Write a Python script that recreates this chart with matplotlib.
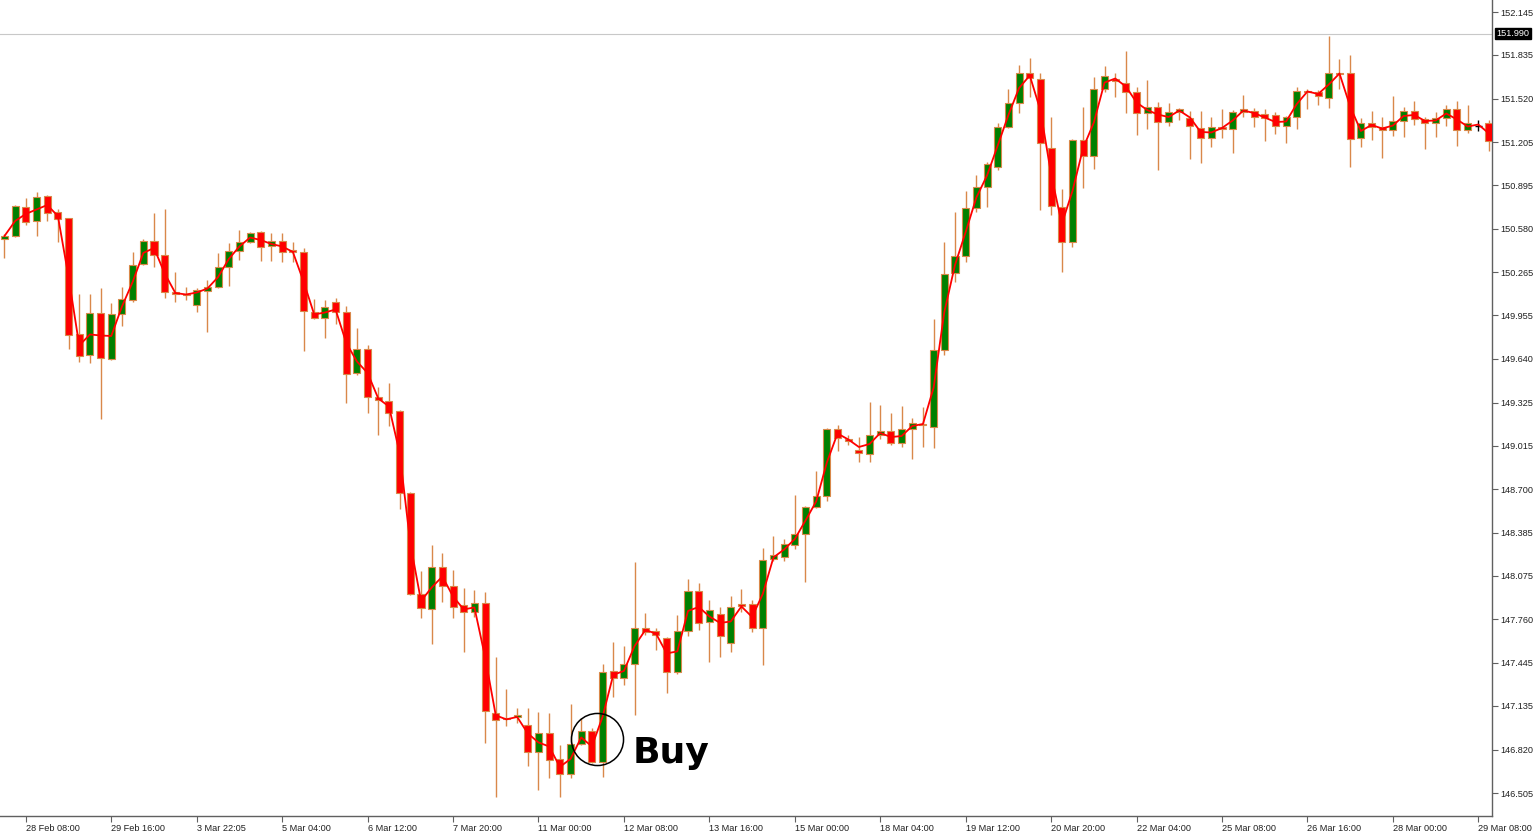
import numpy as np
import pandas as pd
import matplotlib
matplotlib.use("Agg")
import matplotlib.pyplot as plt

# ---- data (4H candles, USDJPY-like) ----
opens = [150.506,150.528,150.737,150.637,150.817,150.702,150.658,149.820,149.669,149.972,
         149.640,149.965,150.066,150.326,150.492,150.391,150.124,150.109,150.030,150.131,
         150.159,150.304,150.420,150.485,150.556,150.456,150.492,150.427,150.413,149.980,
         149.936,150.052,149.980,149.539,149.712,149.365,149.337,149.265,148.672,147.943,
         147.835,148.138,148.001,147.864,147.814,147.878,147.084,147.048,147.055,146.998,
         146.803,146.939,146.752,146.644,146.860,146.954,146.731,147.388,147.337,147.438,
         147.697,147.676,147.625,147.381,147.676,147.965,147.741,147.799,147.589,147.871,
         147.871,147.697,148.196,148.211,148.297,148.376,148.571,148.651,149.134,149.062,
         148.983,148.954,149.091,149.120,149.033,149.134,149.171,149.149,149.705,150.261,
         150.384,150.730,150.882,151.026,151.315,151.488,151.705,151.662,151.163,150.737,
         150.485,151.221,151.106,151.589,151.662,151.633,151.568,151.416,151.459,151.351,
         151.423,151.380,151.308,151.236,151.315,151.301,151.423,151.431,151.409,151.402,
         151.322,151.387,151.575,151.568,151.524,151.705,151.705,151.236,151.344,151.315,
         151.293,151.358,151.431,151.373,151.344,151.380,151.445,151.293,151.322,151.344]
highs = [150.542,150.752,150.802,150.846,150.824,150.723,150.660,150.109,150.109,150.152,
         150.044,150.159,150.413,150.506,150.694,150.723,150.269,150.159,150.152,150.210,
         150.405,150.477,150.571,150.556,150.564,150.549,150.549,150.485,150.441,150.073,
         150.066,150.080,150.023,149.864,149.741,149.437,149.466,149.270,148.680,148.110,
         148.297,148.239,148.117,147.986,147.972,147.958,147.488,147.257,147.120,147.120,
         147.092,147.084,146.853,147.149,147.048,146.976,147.438,147.597,147.568,148.175,
         147.806,147.697,147.630,147.792,148.052,148.023,147.900,147.849,147.929,147.979,
         147.900,148.275,148.362,148.340,148.658,148.575,148.831,149.141,149.163,149.091,
         149.077,149.329,149.308,149.250,149.301,149.214,149.293,149.929,150.485,150.701,
         150.853,150.968,151.062,151.344,151.589,151.763,151.813,151.705,151.387,150.867,
         151.228,151.459,151.676,151.755,151.705,151.864,151.604,151.654,151.496,151.488,
         151.452,151.431,151.431,151.387,151.445,151.438,151.546,151.452,151.445,151.423,
         151.392,151.604,151.589,151.582,151.972,151.806,151.835,151.380,151.431,151.387,
         151.539,151.459,151.503,151.387,151.423,151.474,151.503,151.474,151.366,151.366]
lows = [150.369,150.520,150.608,150.528,150.637,150.485,149.712,149.619,149.611,149.207,
        149.633,149.879,150.052,150.320,150.304,150.080,150.052,150.066,149.980,149.835,
        150.152,150.167,150.355,150.477,150.348,150.348,150.341,150.341,149.698,149.929,
        149.791,149.893,149.322,149.525,149.250,149.091,149.157,148.557,147.936,147.770,
        147.582,147.886,147.770,147.525,147.777,146.867,146.477,146.991,147.012,146.702,
        146.528,146.615,146.477,146.615,146.853,146.724,146.622,147.199,147.286,147.070,
        147.647,147.539,147.228,147.366,147.640,147.683,147.452,147.488,147.525,147.814,
        147.668,147.431,148.181,148.181,148.268,148.030,148.565,148.615,148.976,149.019,
        148.896,148.896,149.062,149.019,149.004,148.918,149.004,148.997,149.669,150.196,
        150.341,150.701,150.737,151.005,151.308,151.416,151.532,150.716,150.680,150.268,
        150.449,150.875,151.012,151.568,151.532,151.416,151.257,151.301,151.005,151.322,
        151.366,151.084,151.055,151.171,151.236,151.127,151.387,151.315,151.214,151.264,
        151.199,151.301,151.445,151.474,151.452,151.589,151.026,151.171,151.221,151.091,
        151.250,151.243,151.330,151.156,151.243,151.322,151.178,151.272,151.286,151.142]
closes = [150.528,150.745,150.630,150.809,150.694,150.651,149.813,149.662,149.972,149.647,
          149.965,150.073,150.319,150.492,150.391,150.124,150.109,150.102,150.138,150.159,
          150.304,150.420,150.485,150.549,150.448,150.492,150.413,150.413,149.987,149.936,
          150.015,149.980,149.532,149.712,149.365,149.344,149.250,148.672,147.943,147.842,
          148.138,148.001,147.849,147.814,147.878,147.099,147.034,147.041,147.070,146.803,
          146.939,146.745,146.644,146.860,146.954,146.731,147.381,147.337,147.438,147.697,
          147.668,147.647,147.381,147.676,147.965,147.734,147.828,147.640,147.849,147.857,
          147.697,148.189,148.225,148.304,148.376,148.571,148.651,149.134,149.070,149.048,
          148.961,149.091,149.120,149.033,149.134,149.178,149.163,149.705,150.254,150.384,
          150.730,150.882,151.048,151.315,151.488,151.705,151.669,151.200,150.745,150.485,
          151.221,151.106,151.589,151.683,151.647,151.568,151.416,151.459,151.351,151.423,
          151.445,151.322,151.236,151.315,151.301,151.423,151.445,151.387,151.380,151.322,
          151.387,151.575,151.568,151.539,151.705,151.698,151.228,151.344,151.315,151.293,
          151.358,151.431,151.373,151.344,151.380,151.445,151.293,151.344,151.322,151.214]

date_labels = ["28 Feb 08:00", "29 Feb 16:00", "3 Mar 22:05", "5 Mar 04:00", "6 Mar 12:00",
               "7 Mar 20:00", "11 Mar 00:00", "12 Mar 08:00", "13 Mar 16:00", "15 Mar 00:00",
               "18 Mar 04:00", "19 Mar 12:00", "20 Mar 20:00", "22 Mar 04:00", "25 Mar 08:00",
               "26 Mar 16:00", "28 Mar 00:00", "29 Mar 08:00"]
price_ticks = [152.145, 151.835, 151.520, 151.205, 150.895, 150.580, 150.265, 149.955,
               149.640, 149.325, 149.015, 148.700, 148.385, 148.075, 147.760, 147.445,
               147.135, 146.820, 146.505]
current_price = 151.990
buy_index = 55.5
buy_price = 146.896

# ---- figure ----
W, H = 1534, 833
fig = plt.figure(figsize=(W / 100, H / 100), dpi=100)
fig.patch.set_facecolor("white")
ax = fig.add_axes([0, 17 / H, 1492 / W, 1 - 17 / H])
ax.set_facecolor("white")

o = np.array(opens); h = np.array(highs); l = np.array(lows); c = np.array(closes)
idx = np.arange(len(o))
up = c > o
dn = c < o
eq = c == o

wick_col = "#D9884A"
ax.vlines(idx[~eq], l[~eq], h[~eq], color=wick_col, lw=1.0, zorder=2)
ax.vlines(idx[eq], l[eq], h[eq], color="black", lw=1.0, zorder=2)

bw = 0.66
body_bottom = np.minimum(o, c)
body_h = np.abs(c - o)
ax.bar(idx[up], body_h[up], bottom=body_bottom[up], width=bw, color="#008000",
       edgecolor=wick_col, linewidth=0.8, zorder=3)
ax.bar(idx[dn], body_h[dn], bottom=body_bottom[dn], width=bw, color="#FF0000",
       edgecolor=wick_col, linewidth=0.8, zorder=3)
ax.hlines(o[eq], idx[eq] - bw / 2, idx[eq] + bw / 2, color="black", lw=1.0, zorder=3)

ma = pd.Series(c).rolling(2, min_periods=1).mean()
ax.plot(idx, ma, color="#FF0000", lw=1.3, zorder=4)

# current price line
ax.axhline(current_price, color="#C8C8C8", lw=0.8, zorder=1)

# Buy marker
ax.plot([buy_index], [buy_price], marker="o", markersize=37.5, markerfacecolor="none",
        markeredgecolor="black", markeredgewidth=1.1, zorder=5)
ax.text(buy_index + 3.35, 146.724, "Buy", fontsize=26, fontweight="bold",
        family="DejaVu Sans", color="black", va="baseline", ha="left", zorder=5)

# axes limits
ax.set_xlim(-0.42, 139.28)
ax.set_ylim(146.340, 152.232)

# spines
for s in ["top", "left"]:
    ax.spines[s].set_visible(False)
ax.spines["right"].set_color("#606060")
ax.spines["bottom"].set_color("#606060")
ax.spines["right"].set_linewidth(1.0)
ax.spines["bottom"].set_linewidth(1.0)

# y axis on right
ax.yaxis.tick_right()
ax.set_yticks(price_ticks)
ax.set_yticklabels([f"{v:.3f}" for v in price_ticks])
ax.tick_params(axis="y", direction="out", length=4, width=0.8, color="#606060",
               labelsize=6.6, pad=2, labelcolor="#202020")
for t in ax.get_yticklabels():
    t.set_family("Liberation Sans")

# x axis
xt = [2 + 8 * k for k in range(len(date_labels))]
ax.set_xticks(xt)
ax.set_xticklabels(date_labels)
ax.tick_params(axis="x", direction="out", length=4, width=0.8, color="#606060",
               labelsize=6.6, pad=2, labelcolor="#202020")
for t in ax.get_xticklabels():
    t.set_family("Liberation Sans")
    t.set_ha("left")
    t.set_clip_on(False)

# current price label box
ax.annotate(f"{current_price:.3f}", xy=(1.0, current_price),
            xycoords=("axes fraction", "data"), xytext=(3, 0), textcoords="offset points",
            fontsize=6.6, family="Liberation Sans", color="white", va="center", ha="left",
            bbox=dict(boxstyle="square,pad=0.15", fc="black", ec="black"), zorder=6,
            annotation_clip=False)

fig.savefig("out.png", dpi=100, facecolor="white")
